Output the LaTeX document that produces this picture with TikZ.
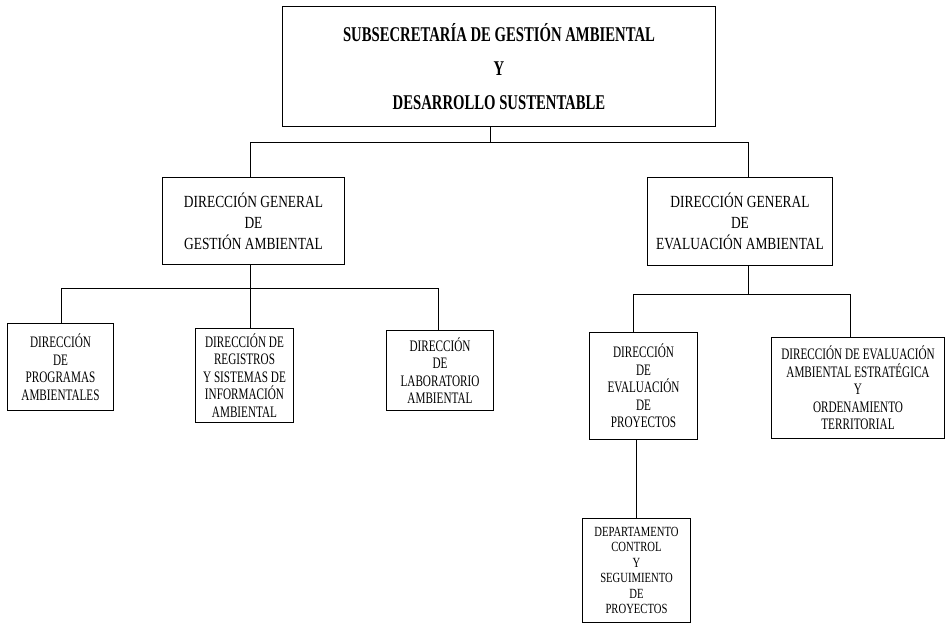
\documentclass[tikz,border=0pt]{standalone}
\usepackage{fontspec}
\setmainfont{Liberation Serif}
\newfontfamily\headfont{Liberation Serif}[FakeStretch=0.7]
\newfontfamily\dgfont{Liberation Serif}[FakeStretch=0.79]
\newfontfamily\dirfont{Liberation Serif}[FakeStretch=0.7]
\newfontfamily\depfont{Liberation Serif}[FakeStretch=0.76]
\begin{document}
\begin{tikzpicture}[x=1pt,y=-1pt,
  unit/.style={draw,line width=1pt,rectangle,inner sep=0pt,align=center,anchor=north west},
  headbox/.style={unit,font=\headfont\bfseries\fontsize{21}{34}\selectfont},
  dgbox/.style={unit,font=\dgfont\fontsize{17}{21}\selectfont},
  dirbox/.style={unit,font=\dirfont\fontsize{16}{17.5}\selectfont},
  depbox/.style={unit,font=\depfont\fontsize{14}{15.4}\selectfont},
  link/.style={line width=1pt}]
\useasboundingbox (0,0) rectangle (946,625);

% top level
\node[headbox,minimum width=433pt,minimum height=120pt] (sub) at (282,6)
  {SUBSECRETARÍA DE GESTIÓN AMBIENTAL\\Y\\DESARROLLO SUSTENTABLE};

% general directorates
\node[dgbox,minimum width=182pt,minimum height=87pt] (dgg) at (162,177)
  {DIRECCIÓN GENERAL\\DE\\GESTIÓN AMBIENTAL};
\node[dgbox,minimum width=185pt,minimum height=88pt] (dge) at (647,177)
  {DIRECCIÓN GENERAL\\DE\\EVALUACIÓN AMBIENTAL};

% directorates under Gestión Ambiental
\node[dirbox,minimum width=106pt,minimum height=87pt] (dpa) at (7,323)
  {DIRECCIÓN\\DE\\PROGRAMAS\\AMBIENTALES};
\node[dirbox,minimum width=98pt,minimum height=94pt] (drs) at (195,328)
  {DIRECCIÓN DE\\REGISTROS\\Y SISTEMAS DE\\INFORMACIÓN\\AMBIENTAL};
\node[dirbox,minimum width=107pt,minimum height=80pt] (dla) at (386,330)
  {DIRECCIÓN\\DE\\LABORATORIO\\AMBIENTAL};

% directorates under Evaluación Ambiental
\node[dirbox,minimum width=108pt,minimum height=107pt] (dep) at (589,332)
  {DIRECCIÓN\\DE\\EVALUACIÓN\\DE\\PROYECTOS};
\node[dirbox,minimum width=173pt,minimum height=101pt] (dea) at (771,337)
  {DIRECCIÓN DE EVALUACIÓN\\AMBIENTAL ESTRATÉGICA\\Y\\ORDENAMIENTO\\TERRITORIAL};

% department
\node[depbox,minimum width=108pt,minimum height=104pt] (dcs) at (582,518)
  {DEPARTAMENTO\\CONTROL\\Y\\SEGUIMIENTO\\DE\\PROYECTOS};

% junction points of the connector bars
\coordinate (t0) at (490,142);
\coordinate (tL) at (250,142);
\coordinate (tR) at (748,142);
\coordinate (lM) at (250,288);
\coordinate (l1) at (61,288);
\coordinate (l3) at (438,288);
\coordinate (rM) at (748,294);
\coordinate (r4) at (633,294);
\coordinate (r5) at (850,294);
\coordinate (d4) at (636,480);

% first level
\draw[link] (sub.south -| t0) -- (t0);
\draw[link] (tL |- dgg.north) -- (tL) -- (tR) -- (tR |- dge.north);

% Gestión Ambiental branch
\draw[link] (dgg.south -| lM) -- (lM |- drs.north);
\draw[link] (l1 |- dpa.north) -- (l1) -- (l3) -- (l3 |- dla.north);

% Evaluación Ambiental branch
\draw[link] (dge.south -| rM) -- (rM);
\draw[link] (r4 |- dep.north) -- (r4) -- (r5) -- (r5 |- dea.north);

% department under Evaluación de Proyectos
\draw[link] (dep.south -| d4) -- (d4 |- dcs.north);
\end{tikzpicture}
\end{document}
